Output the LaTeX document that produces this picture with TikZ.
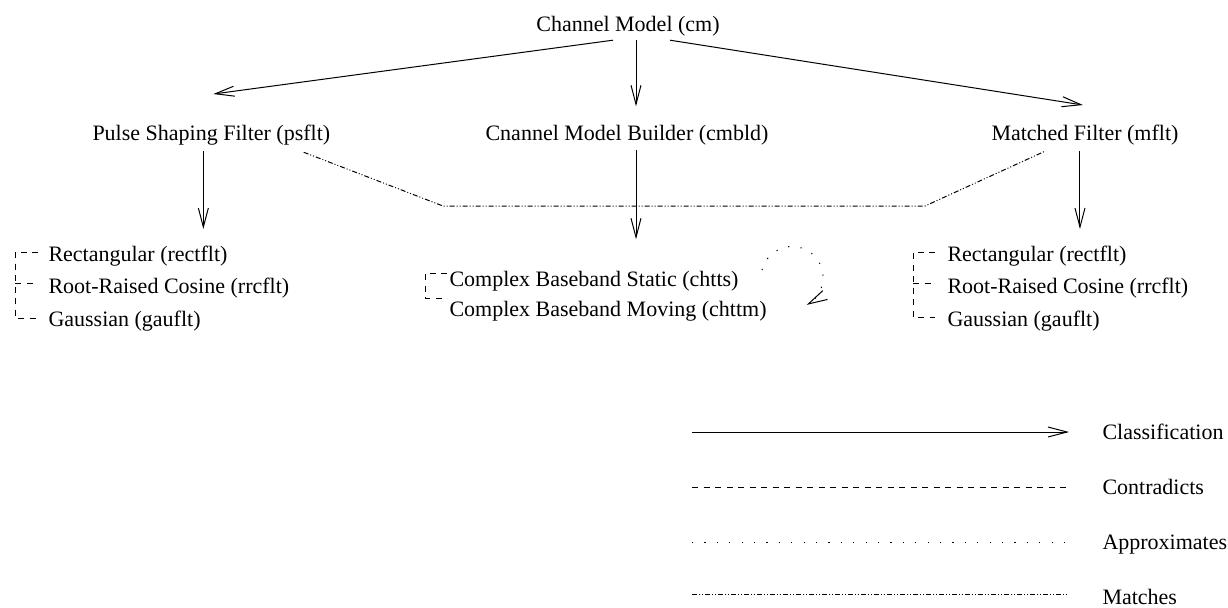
\documentclass[tikz,border=0pt]{standalone}
\usepackage{fontspec}
\setmainfont{Liberation Serif}
\newfontfamily\lblfont{Liberation Serif}
\usetikzlibrary{arrows.meta,calc}

\begin{document}
\begin{tikzpicture}[
		x=0.5pt, y=-0.5pt, line width=0.5pt,
		lbl/.style={inner sep=2pt, font=\lblfont\fontsize{11}{13}\selectfont},
		cls/.style={-{Straight Barb[length=9.5pt,width=5pt]}},
		contra/.style={dash pattern=on 3pt off 2.75pt},
		approx/.style={dash pattern=on 0.6pt off 5.6pt},
		match/.style={dash pattern=on 2.5pt off 1pt on 0.5pt off 1pt on 0.5pt off 1pt}
	]
	\useasboundingbox (0,0) rectangle (1228,607);
	% models
	\node[lbl, anchor=base] (cm) at (628,31) {Channel Model (cm)};
	\node[lbl, anchor=base west] (psflt) at (88,140) {Pulse Shaping Filter (psflt)};
	\node[lbl, anchor=base] (cmbld) at (627,140) {Cnannel Model Builder (cmbld)};
	\node[lbl, anchor=base west] (mflt) at (987,140) {Matched Filter (mflt)};
	% filters
	\node[lbl, anchor=base west] (rectL) at (44,261) {Rectangular (rectflt)};
	\node[lbl, anchor=base west] (rrcL) at (44,293) {Root-Raised Cosine (rrcflt)};
	\node[lbl, anchor=base west] (gauL) at (44,326) {Gaussian (gauflt)};
	\node[lbl, anchor=base west] (chtts) at (445,286) {Complex Baseband Static (chtts)};
	\node[lbl, anchor=base west] (chttm) at (445,316) {Complex Baseband Moving (chttm)};
	\node[lbl, anchor=base west] (rectR) at (943,261) {Rectangular (rectflt)};
	\node[lbl, anchor=base west] (rrcR) at (943,293) {Root-Raised Cosine (rrcflt)};
	\node[lbl, anchor=base west] (gauR) at (943,326) {Gaussian (gauflt)};

	\draw[cls] ($(cm.south)+(-15,0)$) -- ($(psflt.north)+(2,-26)$);
	\draw[cls] ($(cm.south)+(8,0)$) -- ($(cmbld.north)+(9,-14)$);
	\draw[cls] ($(cm.south)+(42,0)$) -- ($(mflt.north)+(-2,-15)$);
	\draw[cls] ($(psflt.south)+(-8,2)$) -- ($(psflt.south |- rectL.north)+(-8,-12)$);
	\draw[cls] ($(cmbld.south)+(9,1)$) -- ($(cmbld.south |- chtts.north)+(9,-27)$);
	\draw[cls] ($(mflt.south)+(-5,2)$) -- ($(mflt.south |- rectR.north)+(-5,-12)$);

	\draw[match] ($(psflt.south east)+(-31,3)$) -- (443,206) -- (925,206)
		-- ($(mflt.south west)+(58,2)$);

	\draw[contra] ($(rectL.base west)+(-6,-9)$) -| ($(gauL.base west)+(-29,-8)$)
		-- ($(gauL.base west)+(-6,-8)$);
	\draw[contra] ($(rrcL.base west)+(-29,-10)$) -- ($(rrcL.base west)+(-6,-10)$);
	\draw[contra] ($(chtts.base west)+(2,-13)$) -| ($(chttm.base west)+(-20,-18)$)
		-- ($(chttm.base west)+(2,-18)$);
	\draw[contra] ($(rectR.base west)+(-8,-9)$) -| ($(gauR.base west)+(-30,-9)$)
		-- ($(gauR.base west)+(-8,-9)$);
	\draw[contra] ($(rrcR.base west)+(-30,-10)$) -- ($(rrcR.base west)+(-8,-10)$);

	\draw[approx, cls] ($(chtts.base east)+(19,-16)$)
		arc[start angle=166, end angle=-62, radius=15.5pt];

	% legend
	\node[lbl, anchor=base west] (lgcls) at (1098,439) {Classification};
	\node[lbl, anchor=base west] (lgcon) at (1098,494) {Contradicts};
	\node[lbl, anchor=base west] (lgapp) at (1098,549) {Approximates};
	\node[lbl, anchor=base west] (lgmat) at (1098,604) {Matches};
	\coordinate (l1) at (692,432);
	\coordinate (l2) at (692,487);
	\coordinate (l3) at (692,542);
	\coordinate (l4) at (692,594);
	\draw[cls] (l1) -- ++(377,0);
	\draw[contra] (l2) -- ++(377,0);
	\draw[approx] (l3) -- ++(377,0);
	\draw[match] (l4) -- ++(377,0);
\end{tikzpicture}
\end{document}
